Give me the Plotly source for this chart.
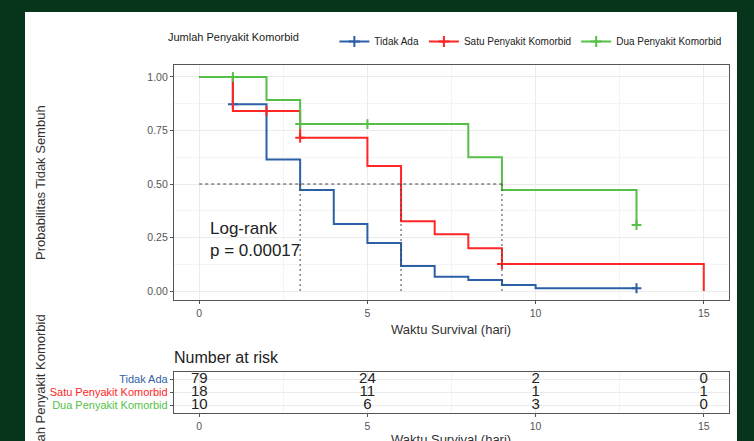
import plotly.graph_objects as go

W, H = 754, 441

groups = ["Tidak Ada", "Satu Penyakit Komorbid", "Dua Penyakit Komorbid"]
colors = ["#2D5FA8", "#FF2626", "#55BF47"]

# Kaplan-Meier step data (time, survival)
tidak_t = [0, 1, 2, 3, 4, 5, 6, 7, 8, 9, 10, 13]
tidak_s = [1.0, 0.873, 0.615, 0.472, 0.313, 0.224, 0.117, 0.067, 0.051, 0.028, 0.013, 0.013]
tidak_cens_t = [1, 13]
tidak_cens_s = [0.873, 0.013]

satu_t = [0, 1, 3, 5, 6, 7, 8, 9, 15, 15]
satu_s = [1.0, 0.841, 0.716, 0.584, 0.326, 0.265, 0.200, 0.126, 0.126, 0.0]
satu_cens_t = [2, 3, 9]
satu_cens_s = [0.841, 0.716, 0.126]

dua_t = [0, 2, 3, 8, 9, 13, 13]
dua_s = [1.0, 0.893, 0.780, 0.625, 0.472, 0.472, 0.308]
dua_cens_t = [1, 3, 5, 13]
dua_cens_s = [1.0, 0.780, 0.780, 0.308]

median_level = 0.5
medians = [3, 6, 9]

risk_times = [0, 5, 10, 15]
risk_tidak = [79, 24, 2, 0]
risk_satu = [18, 11, 1, 1]
risk_dua = [10, 6, 3, 0]

x_ticks = [0, 5, 10, 15]
y_ticks = [0, 0.25, 0.5, 0.75, 1.0]

curves = [
    (tidak_t, tidak_s, tidak_cens_t, tidak_cens_s),
    (satu_t, satu_s, satu_cens_t, satu_cens_s),
    (dua_t, dua_s, dua_cens_t, dua_cens_s),
]

fig = go.Figure()

for name, col, (t, s, ct, cs) in zip(groups, colors, curves):
    fig.add_trace(go.Scatter(x=t, y=s, mode="lines", line=dict(color=col, width=2, shape="hv"),
                             showlegend=False, xaxis="x", yaxis="y", hoverinfo="skip"))
    fig.add_trace(go.Scatter(x=ct, y=cs, mode="markers",
                             marker=dict(symbol="cross-thin", size=7, line=dict(color=col, width=2)),
                             showlegend=False, xaxis="x", yaxis="y", hoverinfo="skip"))
    # legend entry
    fig.add_trace(go.Scatter(x=[None], y=[None], mode="lines+markers", name=name,
                             line=dict(color=col, width=2),
                             marker=dict(symbol="cross-thin", size=8, line=dict(color=col, width=2)),
                             xaxis="x", yaxis="y"))

# median lines
fig.add_trace(go.Scatter(x=[0, max(medians)], y=[median_level, median_level], mode="lines",
                         line=dict(color="#444444", width=1, dash="3px,3px"),
                         showlegend=False, xaxis="x", yaxis="y", hoverinfo="skip"))
for m in medians:
    fig.add_trace(go.Scatter(x=[m, m], y=[0, median_level], mode="lines",
                             line=dict(color="#444444", width=1, dash="2px,3px"),
                             showlegend=False, xaxis="x", yaxis="y", hoverinfo="skip"))

# risk table
rows = [3, 2, 1]
for r, vals in zip(rows, [risk_tidak, risk_satu, risk_dua]):
    fig.add_trace(go.Scatter(x=risk_times, y=[r] * len(risk_times), mode="text",
                             text=[str(v) for v in vals],
                             textfont=dict(family="Liberation Sans, Arial", size=15, color="#222222"),
                             showlegend=False, xaxis="x2", yaxis="y2", hoverinfo="skip"))

fontfam = "Liberation Sans, Arial, sans-serif"
tickfont = dict(family=fontfam, size=10.5, color="#555555")

def px_x(p):
    return p / W

def px_y(p):
    return 1 - p / H

common_x = dict(range=[-0.75, 15.75], tickvals=x_ticks, ticks="outside", ticklen=3,
                tickcolor="#555555", tickfont=tickfont, showline=True, mirror=True,
                linecolor="#555555", linewidth=1.2, showgrid=True, gridcolor="#EBEBEB",
                gridwidth=1, zeroline=False,
                minor=dict(dtick=2.5, tick0=0, showgrid=True, gridcolor="#F4F4F4", ticks=""))

ticklabels_table = [f'<span style="color:{c}">{g}</span>' for g, c in zip(groups, colors)]

def ann(text, x, y, size, angle=0, xanchor="center", color="#333333"):
    return dict(text=text, x=px_x(x), y=px_y(y), xref="paper", yref="paper",
                xanchor=xanchor, yanchor="middle", textangle=angle, showarrow=False,
                font=dict(size=size, color=color))

fig.update_layout(
    width=W, height=H,
    margin=dict(l=0, r=0, t=0, b=0),
    paper_bgcolor="#06351C",
    plot_bgcolor="white",
    font=dict(family=fontfam, color="#333333"),
    xaxis=dict(domain=[px_x(174), px_x(729)], anchor="y", **common_x),
    yaxis=dict(domain=[px_y(300), px_y(65)], range=[-0.042, 1.056], tickvals=y_ticks,
               ticktext=[f"{v:.2f}" for v in y_ticks], ticks="outside", ticklen=3,
               tickcolor="#555555", tickfont=tickfont, showline=True, mirror=True,
               linecolor="#555555", linewidth=1.2, showgrid=True, gridcolor="#EBEBEB",
               zeroline=False, anchor="x",
               minor=dict(dtick=0.125, tick0=0, showgrid=True, gridcolor="#F4F4F4", ticks="")),
    xaxis2=dict(domain=[px_x(174), px_x(729)], anchor="y2", **common_x),
    yaxis2=dict(domain=[px_y(413), px_y(372)], range=[0.4, 3.55], tickvals=rows,
                ticktext=ticklabels_table, ticks="outside", ticklen=3, tickcolor="#555555",
                tickfont=dict(family=fontfam, size=11), showline=True, mirror=True,
                linecolor="#555555", linewidth=1.2, showgrid=True, gridcolor="#EBEBEB",
                zeroline=False, anchor="x2"),
    legend=dict(orientation="h", x=px_x(166), y=px_y(27), xanchor="left", yanchor="top",
                bgcolor="rgba(0,0,0,0)",
                title=dict(text="Jumlah Penyakit Komorbid" + "&nbsp;" * 9,
                           font=dict(size=11, color="#222222")),
                font=dict(size=10, color="#222222"), itemwidth=30, tracegroupgap=0),
    shapes=[dict(type="rect", xref="paper", yref="paper", x0=px_x(25), x1=px_x(737),
                 y0=px_y(12), y1=-0.05, fillcolor="white", line=dict(width=0), layer="below")],
    annotations=[
        dict(text="Log-rank<br>p = 0.00017", x=0.25, y=0.24, xref="x", yref="y",
             xanchor="left", yanchor="middle", align="left", showarrow=False,
             font=dict(size=17, color="#222222")),
        ann("Probabilitas Tidak Sembuh", 40, 183, 13, angle=-90),
        ann("Waktu Survival (hari)", 451, 329, 13),
        ann("Number at risk", 172, 357, 16, xanchor="left", color="#222222"),
        ann("Jumlah Penyakit Komorbid", 40, 392, 13, angle=-90),
        ann("Waktu Survival (hari)", 451, 439, 13),
    ],
)

fig.write_html("out.html", config={"displayModeBar": False},
               post_script="document.body.style.margin='0px';")
